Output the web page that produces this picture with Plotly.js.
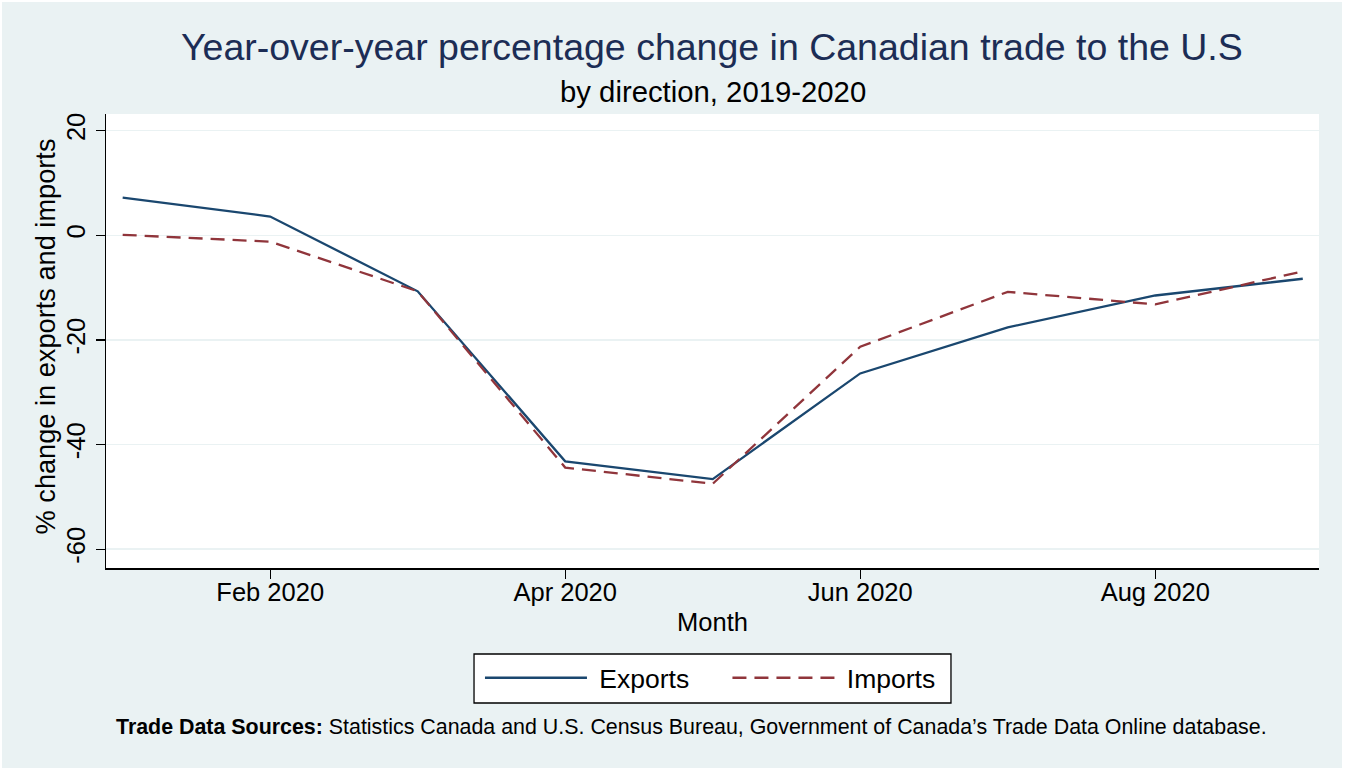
<!DOCTYPE html>
<html>
<head>
<meta charset="utf-8">
<script src="https://cdn.plot.ly/plotly-3.0.1.min.js"></script>
<style>
html,body{margin:0;padding:0;background:#ffffff;}
#chart{position:absolute;left:2px;top:2px;width:1340px;height:766px;}
</style>
</head>
<body>
<div id="chart"></div>
<script>
const months = ["Jan 2020","Feb 2020","Mar 2020","Apr 2020","May 2020","Jun 2020","Jul 2020","Aug 2020","Sep 2020"];
const exportsPct = [7.2, 3.6, -10.7, -43.2, -46.6, -26.4, -17.6, -11.5, -8.3];
const importsPct = [0.1, -1.2, -10.7, -44.4, -47.5, -21.3, -10.8, -13.2, -6.9];
const xTicks = ["Feb 2020","Apr 2020","Jun 2020","Aug 2020"];
const yTicks = [-60, -40, -20, 0, 20];

const FONT = "Liberation Sans, Arial, Helvetica, sans-serif";
const BG = "#EAF2F3";
const NB = "\u00A0";

const traces = [
  {x: months, y: exportsPct, name: NB + "Exports" + "\u2002" + NB + NB + "\u2009", type: "scatter", mode: "lines",
   line: {color: "#1A476F", width: 2.3}},
  {x: months, y: importsPct, name: NB + "Imports" + NB, type: "scatter", mode: "lines",
   line: {color: "#90353B", width: 2.3, dash: "14px,8px"}}
];

const layout = {
  width: 1340, height: 766,
  paper_bgcolor: BG, plot_bgcolor: "#ffffff",
  margin: {l: 104, r: 23, t: 112, b: 200},
  font: {family: FONT, color: "#000000", size: 25},
  showlegend: true,
  legend: {orientation: "h", x: 0.3083, xanchor: "left", y: -0.2423, yanchor: "middle",
           bgcolor: "rgba(0,0,0,0)", borderwidth: 0,
           font: {size: 26.5, family: FONT}, itemwidth: 102, tracegroupgap: 0},
  shapes: [
    {type: "rect", xref: "paper", yref: "paper", x0: 0.3034, x1: 0.6966, y0: -0.2974, y1: -0.1894,
     fillcolor: "#ffffff", line: {color: "#000000", width: 1.3}, layer: "above"}
  ],
  xaxis: {
    type: "category", range: [-0.113, 8.11],
    tickmode: "array", tickvals: xTicks, ticktext: xTicks,
    showgrid: false, zeroline: false,
    showline: true, linecolor: "#000000", linewidth: 1.5,
    ticks: "outside", ticklen: 9, tickwidth: 1.2, tickcolor: "#000000",
    ticklabelstandoff: -8,
    tickfont: {size: 25.5, family: FONT},
    title: {text: "Month", font: {size: 25.5, family: FONT}, standoff: 8},
    fixedrange: true
  },
  yaxis: {
    range: [-63.6, 23.2],
    tickmode: "array", tickvals: yTicks, ticktext: yTicks.map(String),
    tickangle: -90,
    showgrid: true, gridcolor: BG, gridwidth: 1.5, zeroline: false,
    showline: true, linecolor: "#000000", linewidth: 1.5,
    ticks: "outside", ticklen: 9, tickwidth: 1.2, tickcolor: "#000000",
    tickfont: {size: 25.5, family: FONT},
    fixedrange: true
  },
  annotations: [
    {text: "Year-over-year percentage change in Canadian trade to the U.S", xref: "paper", yref: "paper",
     x: 0.4995, y: 1.1476, xanchor: "center", yanchor: "middle", showarrow: false,
     font: {size: 37.5, color: "#1C2D55", family: FONT}},
    {text: "by direction, 2019-2020", xref: "paper", yref: "paper",
     x: 0.5, y: 1.0485, xanchor: "center", yanchor: "middle", showarrow: false,
     font: {size: 29.3, color: "#000000", family: FONT}},
    {text: "% change in exports and imports", xref: "paper", yref: "paper", textangle: -90,
     x: -0.0503, y: 0.51, xanchor: "center", yanchor: "middle", showarrow: false,
     font: {size: 27.2, color: "#000000", family: FONT}},
    {text: "<b>Trade Data Sources:</b> Statistics Canada and U.S. Census Bureau, Government of Canada’s Trade Data Online database.",
     xref: "paper", yref: "paper", x: 0.483, y: -0.3502, xanchor: "center", yanchor: "middle", showarrow: false,
     font: {size: 21.4, color: "#000000", family: FONT}}
  ]
};

Plotly.newPlot("chart", traces, layout, {displayModeBar: false, staticPlot: true});
</script>
</body>
</html>
